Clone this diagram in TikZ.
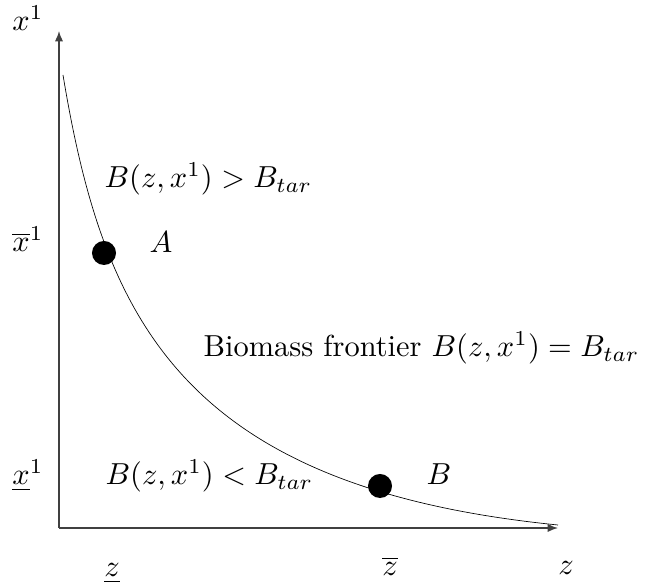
\documentclass[tikz,border=0pt]{standalone}
\usetikzlibrary{arrows.meta}
\begin{document}
\begin{tikzpicture}[x=0.329pt,y=-0.329pt,
  axis/.style={line width=0.45pt, draw=black!75, -{Latex[length=3.4pt,width=2.7pt]}},
  frontier/.style={line width=0.22pt, draw=black},
  dotmark/.style={circle, fill=black, draw=none, inner sep=0pt, minimum size=7.9pt},
  lbl/.style={anchor=base, inner sep=0pt},
  lblw/.style={anchor=base west, inner sep=0pt}]
\useasboundingbox (0,0) rectangle (645,585);
% axes
\coordinate (O) at (59,528);
\coordinate (ytop) at (59,31);
\coordinate (xend) at (558,528);
\draw[axis] (O) -- (ytop);
\draw[axis] (O) -- (xend);
% frontier curve
\coordinate (cstart) at (63,75);
\coordinate (cend) at (558,525);
\draw[frontier] (cstart) .. controls (103,315) and (178,487) .. (cend);
% points
\node[dotmark] (dotA) at (104,253) {};
\node[dotmark] (dotB) at (380,486) {};
\node[lbl] (labA) at (161,253) {$A$};
\node[lbl] (labB) at (439,485) {$B$};
% axis labels
\node[lbl] (ylab) at (28,31) {$x^1$};
\node[lbl] (xbar) at (28,252) {$\overline{x}^1$};
\node[lbl] (xund) at (28,485) {$\underline{x}^1$};
\node[lbl] (zund) at (112,577) {$\underline{z}$};
\node[lbl] (zbar) at (390,576) {$\overline{z}$};
\node[lbl] (zlab) at (566,575) {$z$};
% region texts
\node[lblw] (above) at (104,188) {$B(z,x^1) > B_{tar}$};
\node[lblw] (below) at (105,485) {$B(z,x^1) < B_{tar}$};
\node[lblw] (front) at (203,357) {Biomass frontier $B(z,x^1) = B_{tar}$};
\end{tikzpicture}
\end{document}
